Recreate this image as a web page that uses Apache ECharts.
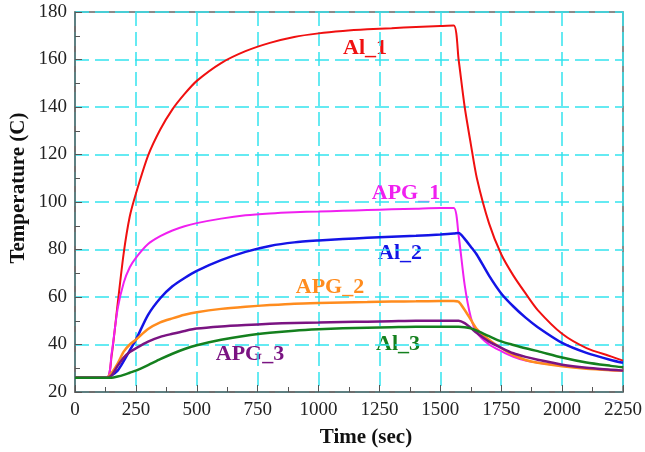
<!DOCTYPE html>
<html>
<head>
<meta charset="utf-8">
<script src="https://cdn.jsdelivr.net/npm/echarts@6/dist/echarts.min.js"></script>
<style>
	html,body{margin:0;padding:0;background:#fff;}
	#chart{width:645px;height:452px;}
</style>
</head>
<body>
<div id="chart"></div>
<script>
	// time in sec, shared by all curves
	var time = [0,130,150,175,200,225,250,300,350,400,450,500,600,700,800,900,1000,1100,1200,1300,1400,1500,1555,1575,1600,1625,1650,1700,1750,1800,1850,1900,2000,2100,2200,2250];

	var al1  = [26,26,35,57,78.5,94,103.5,119.5,130.5,139,145.5,151,158.5,163.5,167,169.5,171,172,172.7,173.2,173.7,174.1,174.3,160,140,124.5,110,91,78,69,61.5,54.5,44.5,38.5,35,33.2];
	var apg1 = [26,26,36,55,66,72.5,76.5,82.3,85.6,88,89.8,91.1,93,94.4,95.2,95.7,96,96.3,96.6,96.9,97.2,97.5,97.5,86,65,51.5,45,40,37.2,34.8,33.2,32.3,31,30,29.2,29];
	var al2  = [26,26,27,29,33,37.5,42,52.5,59.5,64.5,68,71,75.5,79,81.5,83,83.8,84.4,84.9,85.4,85.8,86.3,86.7,87,84.5,81.2,77.8,69,61.5,56,51.3,47.3,40.7,36.5,33.5,32.3];
	var apg2 = [26,26,28,32,37,40,42,46.5,49.3,51,52.5,53.6,55,55.9,56.6,57.2,57.5,57.7,57.9,58.1,58.2,58.3,58.3,58,54.5,50.5,46.5,42,38.5,35.5,33.5,32.3,30.8,29.8,29.2,29];
	var apg3 = [26,26,27,31,34.5,36.8,38.4,41.2,43.2,44.5,45.7,46.7,47.6,48.2,48.7,49.1,49.3,49.5,49.6,49.8,50,50,50,50,49,47,44.8,41.2,38.6,36.3,34.8,33.6,31.5,30.2,29.4,29];
	var al3  = [26,26,26,26.5,27.2,28.1,29,31.3,33.8,36.1,38.1,39.7,42,43.7,44.9,45.8,46.4,46.8,47.1,47.3,47.5,47.5,47.5,47.5,47.3,46.8,45.8,43.5,41.3,39.8,38.4,37.2,34.5,32.4,31,30.4];

	var names  = ['Al_1','APG_1','Al_2','APG_2','APG_3','Al_3'];
	var colors = ['#f01010','#f020f0','#1414e6','#ff8c1e','#7a1482','#14801e'];
	var widths = [2,2,2.5,2.5,2.5,2.5];
	var values = [al1,apg1,al2,apg2,apg3,al3];
	// where the curve names sit (pixels)
	var labelPos = [[365,48],[406,193],[400,253],[330,287],[250,354],[398,344]];

	var serif = "'Liberation Serif','Times New Roman',serif";
	var chart = echarts.init(document.getElementById('chart'));

	var series = [];
	for(var i=0;i<names.length;i++){
		var d = [];
		for(var j=0;j<time.length;j++){
			d.push([time[j],values[i][j]]);
		}
		series.push({
			name:names[i],
			type:'line',
			data:d,
			showSymbol:false,
			smooth:0.25,
			lineStyle:{color:colors[i],width:widths[i]},
			itemStyle:{color:colors[i]},
			z:3
		});
	}

	var texts = [];
	for(var k=0;k<names.length;k++){
		texts.push({
			type:'text',
			x:labelPos[k][0],
			y:labelPos[k][1],
			style:{
				text:names[k],
				fill:colors[k],
				font:'bold 22px '+serif,
				textAlign:'center',
				textVerticalAlign:'middle'
			}
		});
	}
	texts.push({
		type:'text',x:366,y:438,
		style:{text:'Time (sec)',fill:'#111',font:'bold 21px '+serif,textAlign:'center',textVerticalAlign:'middle'}
	});
	texts.push({
		type:'text',x:19,y:188,rotation:Math.PI/2,
		style:{text:'Temperature (C)',fill:'#111',font:'bold 21px '+serif,textAlign:'center',textVerticalAlign:'middle'}
	});

	var gridLine = {show:true,lineStyle:{color:'#33e4ee',width:1.5,type:[14,6]}};

	var option = {
		animation:false,
		grid:{left:75,right:12,top:12,bottom:60,show:true,borderColor:'#666',borderWidth:1.5},
		xAxis:{
			type:'value',min:0,max:2250,interval:250,
			axisLine:{lineStyle:{color:'#666',width:1.5}},
			axisTick:{inside:true,length:7,lineStyle:{color:'#555'}},
			minorTick:{show:true,splitNumber:2,length:5,lineStyle:{color:'#555'}},
			axisLabel:{color:'#222',fontFamily:serif,fontSize:19,margin:9,showMaxLabel:true,
				formatter:function(v){return String(v);}},
			splitLine:gridLine
		},
		yAxis:{
			type:'value',min:20,max:180,interval:20,
			axisLine:{show:true,lineStyle:{color:'#666',width:1.5}},
			axisTick:{show:true,inside:true,length:7,lineStyle:{color:'#555'}},
			minorTick:{show:true,splitNumber:2,length:5,lineStyle:{color:'#555'}},
			axisLabel:{color:'#222',fontFamily:serif,fontSize:19,margin:8},
			splitLine:gridLine
		},
		series:series,
		graphic:texts
	};
	chart.setOption(option);
</script>
</body>
</html>
